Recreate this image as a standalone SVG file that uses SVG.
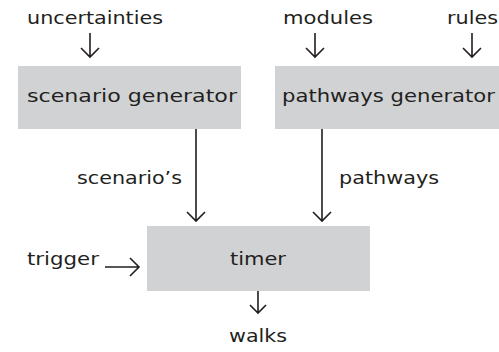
<svg xmlns="http://www.w3.org/2000/svg" width="499" height="352" viewBox="0 0 499 352">
<style>
.box{fill:#d1d2d4}
.t{font-family:"DejaVu Sans","Noto Sans",sans-serif;font-size:18px;fill:#231f20}
.ln{stroke:#231f20;stroke-width:1.6;fill:none}
</style>
<rect width="499" height="352" fill="#fff"/>
<g id="connectors">
<path class="ln" d="M90 33V57M81 48L90 57L99 48"/>
<path class="ln" d="M315 33V57M306 48L315 57L324 48"/>
<path class="ln" d="M472 33V57M463 48L472 57L481 48"/>
<path class="ln" d="M196 129V221M187 212L196 221L205 212"/>
<path class="ln" d="M322 129V221M313 212L322 221L331 212"/>
<path class="ln" d="M105 267H139M130 258L139 267L130 276"/>
<path class="ln" d="M258 291V313M250 305L258 313L266 305"/>
</g>
<g id="uncertainties"><text class="t" x="27" y="24" textLength="136" lengthAdjust="spacingAndGlyphs">uncertainties</text></g>
<g id="modules"><text class="t" x="283" y="24" textLength="90" lengthAdjust="spacingAndGlyphs">modules</text></g>
<g id="rules"><text class="t" x="447" y="24" textLength="51" lengthAdjust="spacingAndGlyphs">rules</text></g>
<g id="scenario-generator"><rect class="box" x="18" y="66" width="223" height="63"/><text class="t" x="27" y="102" textLength="210" lengthAdjust="spacingAndGlyphs">scenario generator</text></g>
<g id="pathways-generator"><rect class="box" x="275" y="66" width="224" height="63"/><text class="t" x="282" y="102" textLength="213" lengthAdjust="spacingAndGlyphs">pathways generator</text></g>
<g id="scenarios-label"><text class="t" x="77" y="184" textLength="105" lengthAdjust="spacingAndGlyphs">scenario’s</text></g>
<g id="pathways-label"><text class="t" x="339" y="184" textLength="100" lengthAdjust="spacingAndGlyphs">pathways</text></g>
<g id="timer"><rect class="box" x="147" y="226" width="223" height="65"/><text class="t" x="230" y="265" textLength="56" lengthAdjust="spacingAndGlyphs">timer</text></g>
<g id="trigger"><text class="t" x="27" y="265" textLength="72" lengthAdjust="spacingAndGlyphs">trigger</text></g>
<g id="walks"><text class="t" x="229" y="342" textLength="58" lengthAdjust="spacingAndGlyphs">walks</text></g>
</svg>
